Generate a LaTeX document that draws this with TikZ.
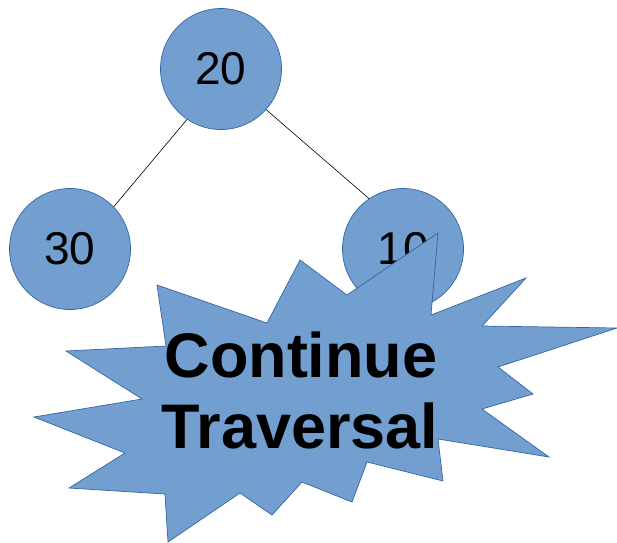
\documentclass[tikz,border=0pt]{standalone}
\usepackage{fontspec}
\setmainfont{Liberation Sans}
\definecolor{nodefill}{HTML}{729FCF}
\definecolor{nodeline}{HTML}{3465A4}
\begin{document}
\begin{tikzpicture}[x=1pt,y=-1pt,
  treenode/.style={circle,draw=nodeline,fill=nodefill,line width=0.7pt,minimum size=121pt,inner sep=0pt,font=\fontsize{46}{46}\selectfont},
  edge/.style={draw=black,line width=0.6pt},
  burst/.style={draw=nodeline,fill=nodefill,line width=0.7pt,line join=miter},
  bursttext/.style={font=\fontsize{63}{71.5}\selectfont\bfseries,align=center,inner sep=0pt,anchor=base}]
\useasboundingbox (0,0) rectangle (617,542);
\node[treenode] (n20) at (221,69) {20};
\node[treenode] (n30) at (70,249) {30};
\node[treenode] (n10) at (403,249) {10};
\draw[edge] (n20.236) -- (n30.44);
\draw[edge] (n20.318) -- (n10.124);
\draw[burst] (157,285) -- (267,323) -- (300,260) -- (347,295) -- (438,233) -- (431,315) -- (526,278) -- (482,326) -- (617,328) -- (498,367) -- (533,394) -- (482,409) -- (549,457) -- (438,439) -- (443,481) -- (367,462) -- (352,502) -- (302,482) -- (272,515) -- (240,493) -- (168,542) -- (165,494) -- (69,488) -- (125,453) -- (34,417) -- (142,399) -- (66,351) -- (166,346) -- cycle;
\node[bursttext] (l1) at (301,377) {Continue};
\node[bursttext] (l2) at (300,448) {Traversal};
\end{tikzpicture}
\end{document}
